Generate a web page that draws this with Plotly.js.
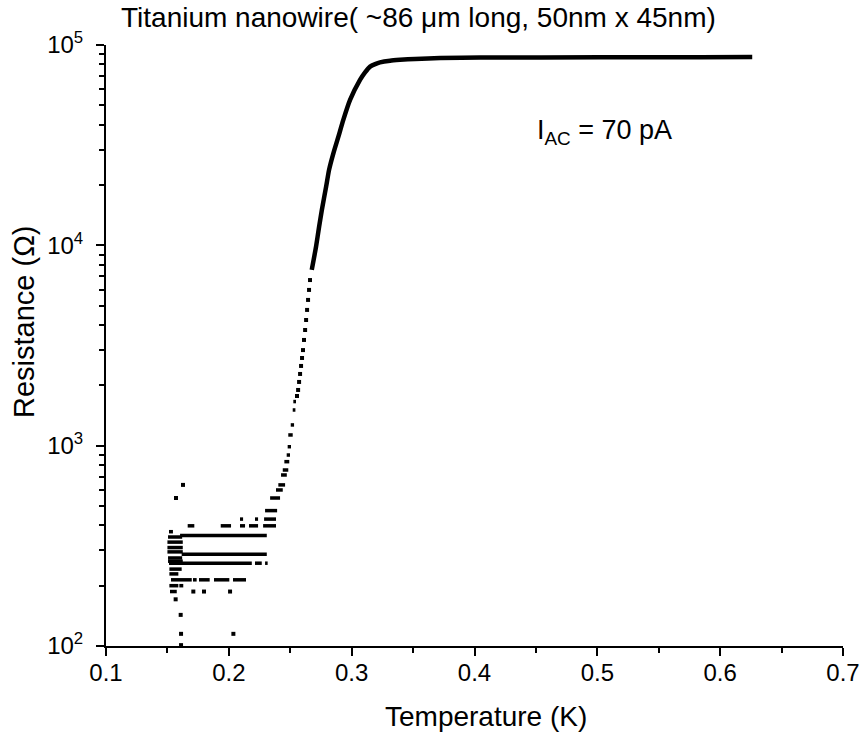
<!DOCTYPE html>
<html>
<head>
<meta charset="utf-8">
<script src="https://cdn.plot.ly/plotly-3.0.1.min.js"></script>
<style>html,body{margin:0;padding:0;background:#fff;}#chart{width:862px;height:740px;}</style>
</head>
<body>
<div id="chart"></div>
<script>
// Dense upper part of the R(T) curve (K, Ohm)
const curveT = [0.2675, 0.2710, 0.2735, 0.2757, 0.2792, 0.2816, 0.2851, 0.2892, 0.2932, 0.2987, 0.3068, 0.3109, 0.3150, 0.3191, 0.3231, 0.3313, 0.3394, 0.3516, 0.3720, 0.4046, 0.5023, 0.5837, 0.6261];
const curveR = [7540, 9850, 12400, 15000, 19630, 23800, 28800, 34900, 42300, 53200, 66900, 73000, 78000, 80300, 81900, 83500, 84300, 85200, 86000, 86500, 86800, 86900, 87000];

// Sparse dotted part of the transition
const dotT = [0.2661, 0.2653, 0.2645, 0.2637, 0.2629, 0.2621, 0.2612, 0.2604, 0.2596, 0.2588, 0.2580, 0.2572, 0.2564, 0.2555,
              0.1627, 0.1570, 0.1711, 0.1798, 0.2010, 0.1567, 0.1608, 0.1611, 0.2037, 0.1611];
const dotR = [6710, 5990, 5340, 4760, 4240, 3780, 3370, 3000, 2740, 2500, 2280, 2080, 1897, 1770,
              637, 548, 187, 187, 187, 171, 143, 115, 115, 101];

// Quantized resistance levels: runs of points (start T, end T, R)
const runStart = [0.2525, 0.2520, 0.2504, 0.2484, 0.2479, 0.2471, 0.2452, 0.2439, 0.2425, 0.2403, 0.2384, 0.2336, 0.2295,
                  0.2091, 0.2213, 0.2287,
                  0.1665, 0.1934, 0.2091, 0.2164, 0.2279,
                  0.1603, 0.1616, 0.1513, 0.2213, 0.2295,
                  0.1529, 0.1708, 0.1757, 0.1879, 0.2034,
                  0.1521, 0.1516, 0.1516, 0.1516, 0.1597,
                  0.1513, 0.1505, 0.1500, 0.1500, 0.1500, 0.1505, 0.1505];
const runEnd   = [0.2547, 0.2542, 0.2531, 0.2520, 0.2506, 0.2498, 0.2492, 0.2484, 0.2472, 0.2458, 0.2439, 0.2417, 0.2393,
                  0.2116, 0.2238, 0.2384,
                  0.1719, 0.2018, 0.2132, 0.2238, 0.2384,
                  0.2309, 0.2309, 0.2187, 0.2268, 0.2316,
                  0.1698, 0.1738, 0.1844, 0.2004, 0.2140,
                  0.1576, 0.1616, 0.1589, 0.1589, 0.1629,
                  0.1545, 0.1620, 0.1625, 0.1625, 0.1625, 0.1620, 0.1625];
const runR     = [1660, 1507, 1269, 1131, 988, 898, 832, 756, 714, 637, 601, 548, 474,
                  430, 430, 430,
                  398, 398, 398, 398, 398,
                  356, 287, 259, 259, 259,
                  214, 214, 214, 214, 214,
                  187, 242, 229, 200, 200,
                  372, 350, 330, 310, 295, 275, 265];

// Axis tick labels
const xTicks = [0.1, 0.2, 0.3, 0.4, 0.5, 0.6, 0.7];
const yTickVals = [100, 1000, 10000, 100000];
const yTickText = ['10<sup>2</sup>', '10<sup>3</sup>', '10<sup>4</sup>', '10<sup>5</sup>'];

// build run segments separated by gaps
const segT = [], segR = [];
for (let i = 0; i < runR.length; i++) {
  segT.push(runStart[i], runEnd[i], null);
  segR.push(runR[i], runR[i], null);
}
const minorVals = [];
for (let d = 2; d < 5; d++) for (let m = 2; m <= 9; m++) minorVals.push(m * Math.pow(10, d));

const FONT = 'Liberation Sans, Arial, sans-serif';
const traces = [
  {x: curveT, y: curveR, mode: 'lines', line: {color: '#000', width: 4.5, shape: 'spline', smoothing: 0.6}},
  {x: segT, y: segR, mode: 'lines', line: {color: '#000', width: 3.5}, connectgaps: false},
  {x: dotT, y: dotR, mode: 'markers', marker: {symbol: 'square', size: 4, color: '#000'}}
];
const layout = {
  width: 862, height: 740,
  margin: {l: 106, r: 19, t: 45, b: 94},
  paper_bgcolor: '#fff', plot_bgcolor: '#fff',
  showlegend: false,
  font: {family: FONT, color: '#000', size: 24},
  title: {text: 'Titanium nanowire( ~86 \u03bcm long, 50nm x 45nm)', font: {family: FONT, size: 28, color: '#000'},
          xref: 'container', x: 121/862, xanchor: 'left', yref: 'container', y: 1 - 17/740, yanchor: 'middle'},
  xaxis: {
    range: [0.1, 0.7], tickvals: xTicks, ticktext: xTicks.map(v => v.toFixed(1)),
    showline: true, linecolor: '#000', linewidth: 2, mirror: false,
    showgrid: false, zeroline: false,
    ticks: 'outside', ticklen: 8, tickwidth: 2, tickcolor: '#000',
    ticklabelstandoff: -4,
    minor: {dtick: 0.05, tick0: 0.1, ticks: 'outside', ticklen: 5, tickwidth: 2, tickcolor: '#000', showgrid: false},
    tickfont: {family: FONT, size: 24, color: '#000'},
    automargin: false
  },
  yaxis: {
    type: 'log', range: [2, 5],
    tickmode: 'array', tickvals: yTickVals, ticktext: yTickText,
    showline: true, linecolor: '#000', linewidth: 2, mirror: false,
    showgrid: false, zeroline: false,
    ticks: 'outside', ticklen: 8, tickwidth: 2, tickcolor: '#000',
    ticklabelstandoff: 8,
    minor: {tickmode: 'array', tickvals: minorVals, ticks: 'outside', ticklen: 5, tickwidth: 2, tickcolor: '#000', showgrid: false},
    tickfont: {family: FONT, size: 24, color: '#000'},
    automargin: false
  },
  annotations: [
    {xref: 'x', yref: 'y', x: 0.4493, y: 4.566, xanchor: 'left', yanchor: 'middle',
     text: 'I<sub>AC</sub> = 70 pA', showarrow: false, font: {family: FONT, size: 27, color: '#000'}},
    {xref: 'paper', yref: 'paper', x: (486 - 106) / 737, y: -(717 - 646) / 601, xanchor: 'center', yanchor: 'middle',
     text: 'Temperature (K)', showarrow: false, font: {family: FONT, size: 28, color: '#000'}},
    {xref: 'paper', yref: 'paper', x: (24 - 106) / 737, y: (646 - 322) / 601, xanchor: 'center', yanchor: 'middle',
     textangle: -90, text: 'Resistance (\u03a9)', showarrow: false, font: {family: FONT, size: 29, color: '#000'}}
  ]
};
Plotly.newPlot('chart', traces, layout, {staticPlot: true, displayModeBar: false});
</script>
</body>
</html>
